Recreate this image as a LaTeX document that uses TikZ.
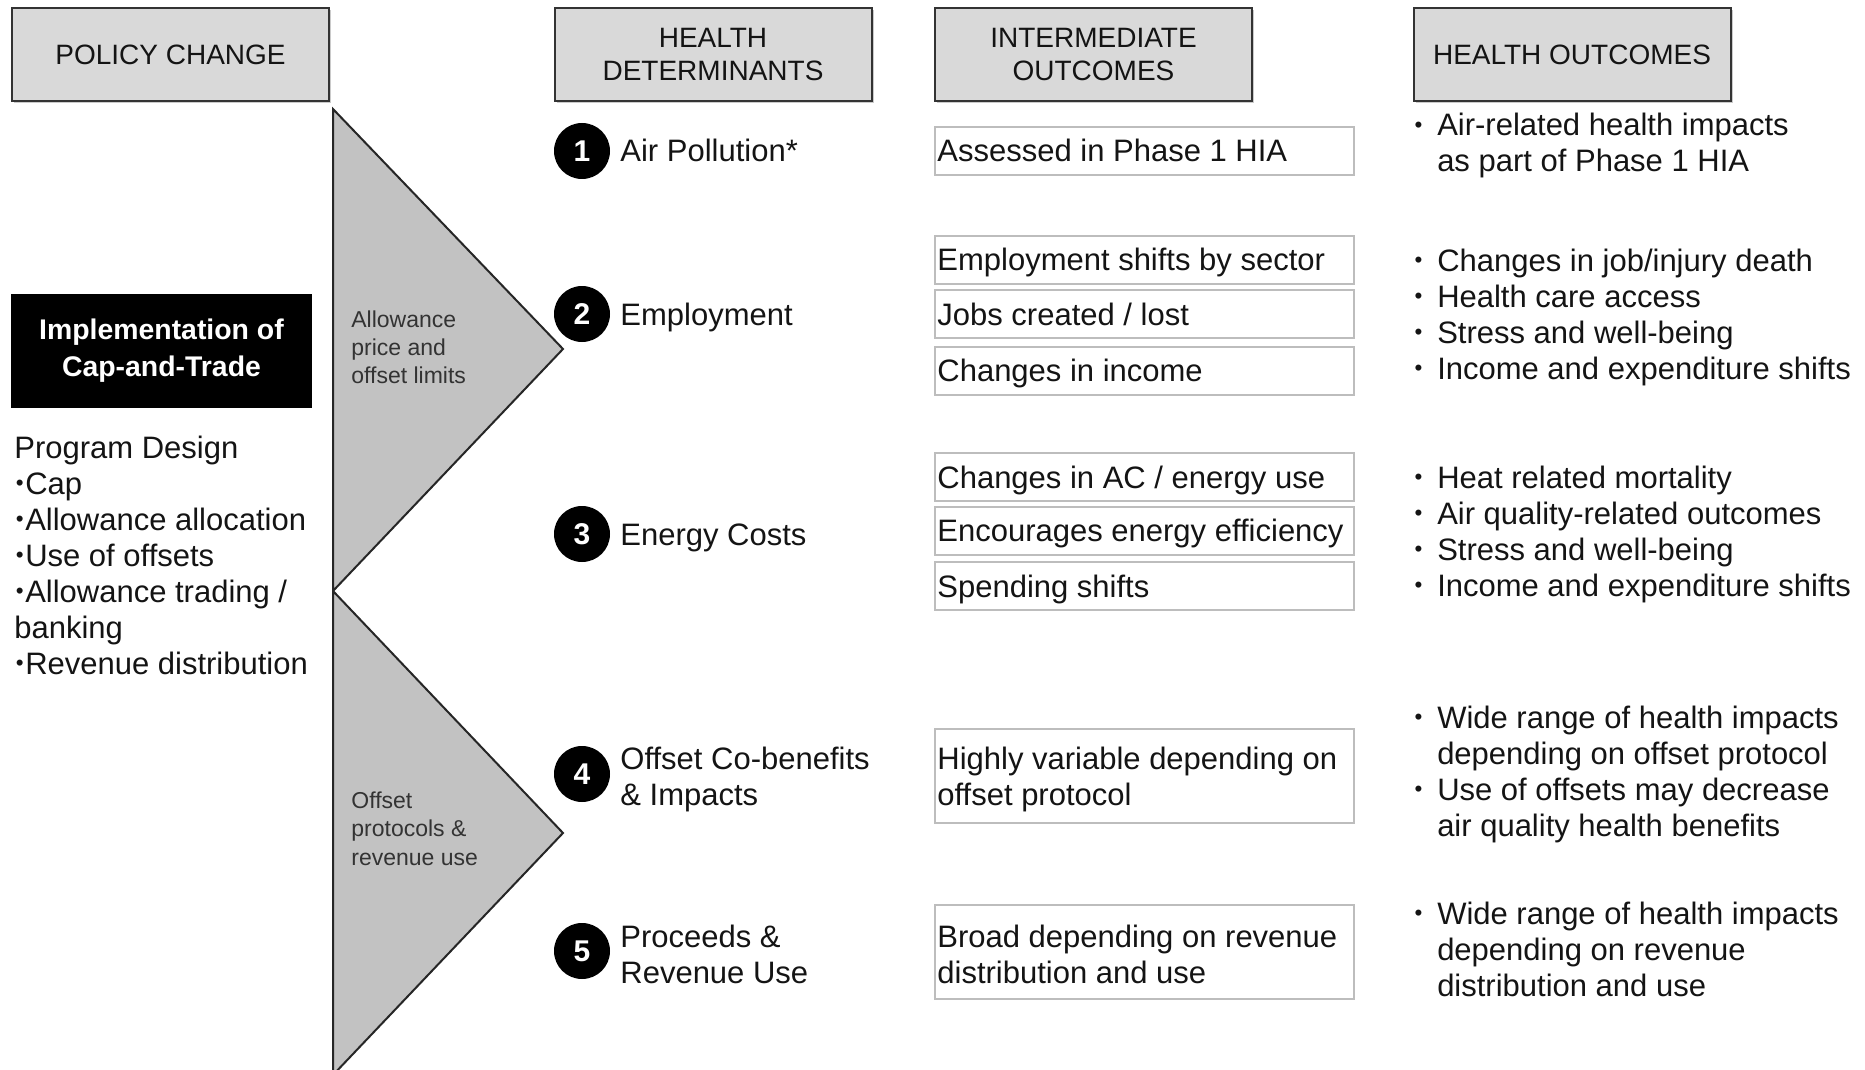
\documentclass[tikz,border=0pt]{standalone}
\usepackage{fontspec}
\usepackage{graphicx}
\setmainfont{Liberation Sans}
\usetikzlibrary{calc,shadows}

\definecolor{hdrgray}{HTML}{D9D9D9}
\definecolor{trigray}{HTML}{C2C2C2}
\definecolor{boxline}{HTML}{BDBDBD}
\definecolor{ink}{HTML}{141414}

% a left-aligned stack of lines whose baseline is the first line's
\newcommand{\stack}[1]{\begin{tabular}[t]{@{}l@{}}#1\end{tabular}}
% a smaller bullet that keeps the width of the full one
\newcommand{\dotb}{\makebox[0.35em]{\raisebox{0.1em}{\scalebox{0.72}{•}}}}
% bullet list: bullet column, then the text column
\newcommand{\blist}[1]{\begin{tabular}[t]{@{}l@{\hspace{6.7pt}}l@{}}#1\end{tabular}}

\tikzset{
  mainfont/.style={font=\fontsize{15.5}{18}\selectfont, text=ink},
  hdr/.style={draw=black!80, line width=1pt, fill=hdrgray,
    minimum width=158.5pt, minimum height=46.5pt, inner sep=0pt,
    align=center, font=\fontsize{14}{16.5}\selectfont, text=ink,
    drop shadow={shadow xshift=1pt, shadow yshift=-1pt, opacity=0.35, fill=black!60}},
  tri/.style={draw=black!85, line width=1pt, fill=trigray, line join=miter},
  trilabel/.style={anchor=base west, inner sep=0pt,
    font=\fontsize{11.5}{14.25}\selectfont, text=black!80},
  implbox/.style={fill=black, minimum width=150.5pt, minimum height=57pt,
    inner sep=0pt, align=center, text=white,
    font=\bfseries\fontsize{14.2}{18.5}\selectfont},
  numc/.style={circle, fill=black, minimum size=28pt, inner sep=0pt,
    text=white, font=\bfseries\fontsize{15}{15}\selectfont},
  tline/.style={mainfont, anchor=base west, inner sep=0pt},
  ibox/.style={draw=boxline, line width=1pt, fill=white,
    minimum width=209.5pt, minimum height=24pt, inner sep=0pt},
  iboxtall/.style={ibox, minimum height=47pt},
}

\begin{document}
\begin{tikzpicture}[x=0.5pt, y=-0.5pt]
\useasboundingbox (0,0) rectangle (1865,1070);

% column headers
\node[hdr] (hPolicy) at (170.5,54.5) {POLICY CHANGE};
\node[hdr] (hDet)    at (713,54.5)   {HEALTH\\DETERMINANTS};
\node[hdr] (hInter)  at (1093.5,54.5){INTERMEDIATE\\OUTCOMES};
\node[hdr] (hOut)    at (1572,54.5)  {HEALTH OUTCOMES};

% the two arrow-head wedges
\filldraw[tri] (333,109) -- (563,349) -- (333,591) -- cycle;
\filldraw[tri] (333,591) -- (563,833) -- (333,1075) -- cycle;
\node[trilabel] (wedge1) at (351,327) {\stack{Allowance\\price and\\offset limits}};
\node[trilabel] (wedge2) at (351,808) {\stack{Offset\\protocols \&\\revenue use}};

% policy column
\node[implbox] (impl) at (161.5,351) {Implementation of\\Cap-and-Trade};
\node[tline] (design) at (14,458) {\stack{Program Design\\\dotb Cap\\\dotb Allowance allocation\\\dotb Use of offsets\\\dotb Allowance trading /\\banking\\\dotb Revenue distribution}};

% health determinants
\node[numc] (n1) at (582,151) {1};
\node[numc] (n2) at (582,314) {2};
\node[numc] (n3) at (582,534) {3};
\node[numc] (n4) at (582,774) {4};
\node[numc] (n5) at (582,951) {5};
\node[tline] (d1) at (620,162) {Air Pollution*};
\node[tline] (d2) at (620,325) {Employment};
\node[tline] (d3) at (620,545) {Energy Costs};
\node[tline] (d4) at (620,769) {\stack{Offset Co-benefits\\\& Impacts}};
\node[tline] (d5) at (620,947) {\stack{Proceeds \&\\Revenue Use}};

% intermediate outcomes
\node[ibox] (i1) at (1144.5,151)   {};
\node[ibox] (i2) at (1144.5,259.5) {};
\node[ibox] (i3) at (1144.5,314)   {};
\node[ibox] (i4) at (1144.5,370.5) {};
\node[ibox] (i5) at (1144.5,477)   {};
\node[ibox] (i6) at (1144.5,530.5) {};
\node[ibox] (i7) at (1144.5,586)   {};
\node[iboxtall] (i8) at (1144.5,776) {};
\node[iboxtall] (i9) at (1144.5,952) {};
\node[tline] (t1) at ($(i1.west)+(3,11)$) {Assessed in Phase 1 HIA};
\node[tline] (t2) at ($(i2.west)+(3,11)$) {Employment shifts by sector};
\node[tline] (t3) at ($(i3.west)+(3,11)$) {Jobs created / lost};
\node[tline] (t4) at ($(i4.west)+(3,11)$) {Changes in income};
\node[tline] (t5) at ($(i5.west)+(3,11)$) {Changes in AC / energy use};
\node[tline] (t6) at ($(i6.west)+(3,11)$) {Encourages energy efficiency};
\node[tline] (t7) at ($(i7.west)+(3,11)$) {Spending shifts};
\node[tline] (t8) at ($(i8.west)+(3,-7)$) {\stack{Highly variable depending on\\offset protocol}};
\node[tline] (t9) at ($(i9.west)+(3,-5)$) {\stack{Broad depending on revenue\\distribution and use}};

% health outcomes
\node[tline] (o1) at (1412.6,136) {\blist{\dotb & Air-related health impacts\\ & as part of Phase 1 HIA}};
\node[tline] (o2) at (1412.6,271) {\blist{\dotb & Changes in job/injury death\\\dotb & Health care access\\\dotb & Stress and well-being\\\dotb & Income and expenditure shifts}};
\node[tline] (o3) at (1412.6,488) {\blist{\dotb & Heat related mortality\\\dotb & Air quality-related outcomes\\\dotb & Stress and well-being\\\dotb & Income and expenditure shifts}};
\node[tline] (o4) at (1412.6,728) {\blist{\dotb & Wide range of health impacts\\ & depending on offset protocol\\\dotb & Use of offsets may decrease\\ & air quality health benefits}};
\node[tline] (o5) at (1412.6,924) {\blist{\dotb & Wide range of health impacts\\ & depending on revenue\\ & distribution and use}};
\end{tikzpicture}
\end{document}
